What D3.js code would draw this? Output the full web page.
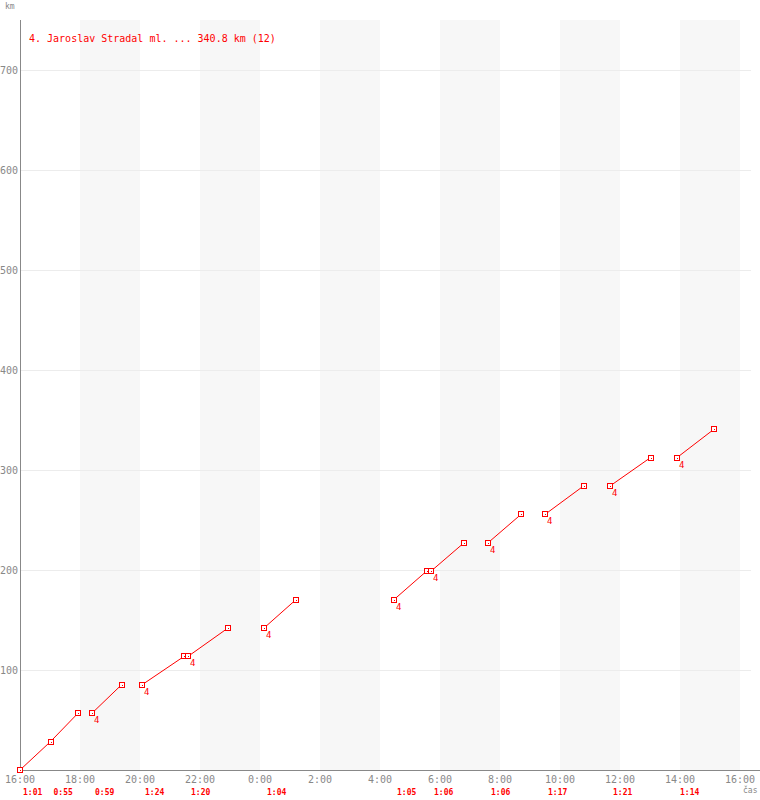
<!DOCTYPE html>
<html>
<head>
<meta charset="utf-8">
<script src="https://cdn.jsdelivr.net/npm/d3@7"></script>
<style>
  body { margin: 0; background: #fff; }
  svg { display: block; }
  text { font-family: "DejaVu Sans Mono", "Liberation Mono", monospace; }
</style>
</head>
<body>
<div id="chart"></div>
<script>
// data
const title = "4. Jaroslav Stradal ml. ... 340.8 km (12)";
const legStarts = ["16:00", "17:01", "18:24", "20:04", "21:36", "0:08", "4:28", "5:42", "7:36", "9:30", "11:40", "13:54"];
const legMinutes = [61, 55, 59, 84, 80, 64, 65, 66, 66, 77, 81, 74];
const legKm = [28.4, 28.4, 28.4, 28.4, 28.4, 28.4, 28.4, 28.4, 28.4, 28.4, 28.4, 28.4];
const legTags = ["", "", "4", "4", "4", "4", "4", "4", "4", "4", "4", "4"];
const yTicks = [100, 200, 300, 400, 500, 600, 700];
const xTicks = ["16:00", "18:00", "20:00", "22:00", "0:00", "2:00", "4:00", "6:00", "8:00", "10:00", "12:00", "14:00", "16:00"];

const width = 760;
const height = 800;
const marginLeft = 20;
const marginTop = 20;
const plotRight = 740;
const plotBottom = 770;
const red = "#ff0000";
const grey = "#888";

// minutes since 16:00
function toMin(s) {
  const p = s.split(":").map(Number);
  let m = p[0] * 60 + p[1] - 16 * 60;
  if (m < 0) m += 1440;
  return m;
}
function fmtDur(m) {
  return Math.floor(m / 60) + ":" + String(m % 60).padStart(2, "0");
}

// build legs
let km = 0;
const legs = legStarts.map((s, i) => {
  const t0 = toMin(s);
  const leg = { t0: t0, t1: t0 + legMinutes[i], k0: km, k1: km + legKm[i], tag: legTags[i], dur: legMinutes[i] };
  km += legKm[i];
  return leg;
});

const x = d3.scaleLinear().domain([0, 1440]).range([marginLeft, plotRight]);
const y = d3.scaleLinear().domain([0, 750]).range([plotBottom, marginTop]);

const svg = d3.select("#chart").append("svg")
  .attr("width", width)
  .attr("height", height);

// stripes every other 2 hours
const stripes = d3.range(120, 1440, 240);
svg.append("g").selectAll("rect")
  .data(stripes)
  .join("rect")
  .attr("x", d => x(d))
  .attr("y", marginTop)
  .attr("width", d => x(d + 120) - x(d))
  .attr("height", plotBottom - marginTop)
  .attr("fill", "#f7f7f7");

// grid lines
svg.append("g").selectAll("line")
  .data(yTicks)
  .join("line")
  .attr("x1", marginLeft)
  .attr("x2", 751)
  .attr("y1", d => Math.round(y(d)) + 0.5)
  .attr("y2", d => Math.round(y(d)) + 0.5)
  .attr("stroke", "#ececec");

// y labels
svg.append("g").selectAll("text")
  .data(yTicks)
  .join("text")
  .attr("x", 18)
  .attr("y", d => y(d) + 4)
  .attr("text-anchor", "end")
  .attr("font-size", 10)
  .attr("fill", grey)
  .text(d => d);

// x labels
svg.append("g").selectAll("text")
  .data(xTicks)
  .join("text")
  .attr("x", (d, i) => x(i * 120))
  .attr("y", 783)
  .attr("text-anchor", "middle")
  .attr("font-size", 10)
  .attr("fill", grey)
  .text(d => d);

// axes
svg.append("line")
  .attr("x1", marginLeft + 0.5).attr("x2", marginLeft + 0.5)
  .attr("y1", marginTop).attr("y2", plotBottom)
  .attr("stroke", grey);
svg.append("line")
  .attr("x1", marginLeft).attr("x2", width)
  .attr("y1", plotBottom + 0.5).attr("y2", plotBottom + 0.5)
  .attr("stroke", grey);

svg.append("text")
  .attr("x", 5).attr("y", 9)
  .attr("font-size", 8)
  .attr("fill", grey)
  .text("km");
svg.append("text")
  .attr("x", 743).attr("y", 793)
  .attr("font-size", 8)
  .attr("fill", grey)
  .text("čas");

// title
svg.append("text")
  .attr("x", 29).attr("y", 42)
  .attr("font-size", 10)
  .attr("fill", red)
  .text(title);

// leg lines
svg.append("g").selectAll("line")
  .data(legs)
  .join("line")
  .attr("x1", d => x(d.t0))
  .attr("y1", d => y(d.k0))
  .attr("x2", d => x(d.t1))
  .attr("y2", d => y(d.k1))
  .attr("stroke", red)
  .attr("stroke-width", 1);

// markers at leg ends
const pts = [];
legs.forEach(d => {
  pts.push([d.t0, d.k0]);
  pts.push([d.t1, d.k1]);
});
const mk = svg.append("g").selectAll("g")
  .data(pts)
  .join("g")
  .attr("transform", d => `translate(${Math.round(x(d[0]))},${Math.round(y(d[1]))})`);
mk.append("rect")
  .attr("x", -2.5).attr("y", -2.5)
  .attr("width", 5).attr("height", 5)
  .attr("fill", "#fff")
  .attr("stroke", red)
  .attr("shape-rendering", "crispEdges");
mk.append("rect")
  .attr("x", 0).attr("y", 0)
  .attr("width", 1).attr("height", 1)
  .attr("fill", red);

// tags
svg.append("g").selectAll("text")
  .data(legs.filter(d => d.tag))
  .join("text")
  .attr("x", d => x(d.t0) + 2)
  .attr("y", d => y(d.k0) + 10)
  .attr("font-size", 9)
  .attr("fill", red)
  .text(d => d.tag);

// durations
svg.append("g").selectAll("text")
  .data(legs)
  .join("text")
  .attr("x", d => x(d.t0) + 3)
  .attr("y", 795)
  .attr("font-size", 8)
  .attr("font-weight", "bold")
  .attr("fill", red)
  .text(d => fmtDur(d.dur));
</script>
</body>
</html>
